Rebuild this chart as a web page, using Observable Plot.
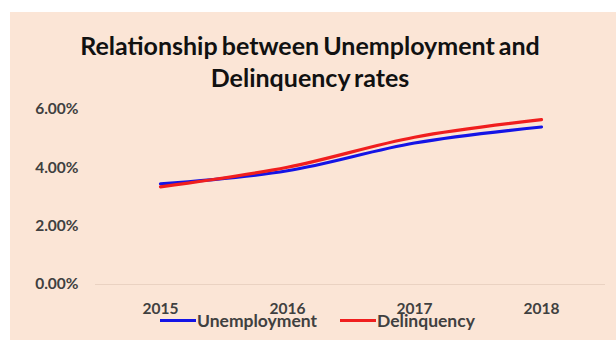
<!DOCTYPE html>
<html>
<head>
<meta charset="utf-8">
<script src="https://cdn.jsdelivr.net/npm/d3@7"></script>
<script src="https://cdn.jsdelivr.net/npm/@observablehq/plot@0.6"></script>
<style>
  html, body { margin: 0; padding: 0; background: #ffffff; width: 616px; height: 343px; overflow: hidden; }
  #panel { position: absolute; left: 10px; top: 12px; width: 606px; height: 328px; background: #fbe5d6; }
  #title { position: absolute; left: -3px; top: 17px; width: 606px; text-align: center; font-family: Lato, "Liberation Sans", sans-serif; font-weight: 700; font-size: 25px; line-height: 32px; color: #111; letter-spacing: 0px; word-spacing: -2px; }
  #chart { position: absolute; left: 0; top: 80px; }
  #legend { position: absolute; top: 298px; left: 150px; font-family: Lato, "Liberation Sans", sans-serif; font-weight: 700; font-size: 17.5px; color: #404040; white-space: nowrap; }
  .item { position: absolute; top: 0; display: flex; align-items: center; }
  .swatch { width: 36px; height: 3px; margin-right: 1px; }
</style>
</head>
<body>
<div id="panel">
  <div id="title">Relationship between Unemployment and<br>Delinquency rates</div>
  <div id="chart"></div>
  <div id="legend"></div>
</div>
<script>
const years = ["2015", "2016", "2017", "2018"];
const unemployment = [3.45, 3.90, 4.85, 5.40];
const delinquency = [3.35, 4.02, 5.05, 5.65];
const seriesNames = ["Unemployment", "Delinquency"];
const seriesColors = ["#1414e6", "#f01e1e"];
const yTicks = [0, 2, 4, 6];

const rows = [];
years.forEach((y, i) => {
  rows.push({year: y, value: unemployment[i], series: seriesNames[0]});
  rows.push({year: y, value: delinquency[i], series: seriesNames[1]});
});

const chart = Plot.plot({
  width: 606,
  height: 248,
  marginLeft: 85,
  marginRight: 11,
  marginTop: 17,
  marginBottom: 56,
  style: {background: "transparent", fontFamily: "Lato, 'Liberation Sans', sans-serif", fontSize: "15.5px", fontWeight: "700", color: "#404040", overflow: "visible"},
  x: {type: "point", domain: years, padding: 0.5, label: null, tickSize: 0, tickPadding: 18},
  y: {domain: [0, 6], ticks: yTicks, tickFormat: d => d.toFixed(2) + "%", label: null, tickSize: 0, tickPadding: 17},
  color: {domain: seriesNames, range: seriesColors},
  marks: [
    Plot.ruleY([0], {stroke: "#ead2c2", strokeWidth: 1}),
    Plot.line(rows, {x: "year", y: "value", z: "series", stroke: "series", strokeWidth: 3.2, curve: "monotone-x"})
  ]
});
document.getElementById("chart").appendChild(chart);

const legend = document.getElementById("legend");
const offsets = [0, 180];
seriesNames.forEach((name, i) => {
  const item = document.createElement("div");
  item.className = "item";
  item.style.left = offsets[i] + "px";
  const sw = document.createElement("div");
  sw.className = "swatch";
  sw.style.background = seriesColors[i];
  const t = document.createElement("span");
  t.textContent = name;
  item.appendChild(sw);
  item.appendChild(t);
  legend.appendChild(item);
});
</script>
</body>
</html>
